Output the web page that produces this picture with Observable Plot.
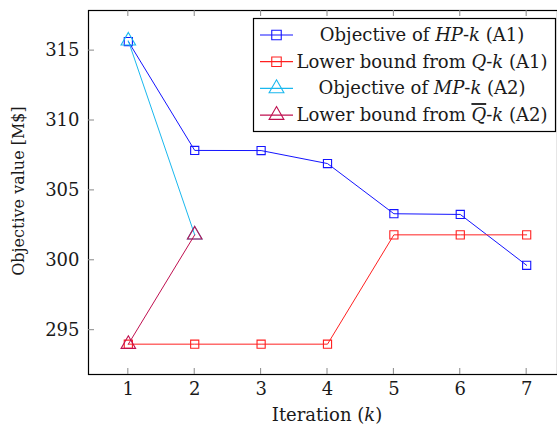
<!DOCTYPE html>
<html>
<head>
<meta charset="utf-8">
<script src="https://cdn.jsdelivr.net/npm/d3@7"></script>
<script src="https://cdn.jsdelivr.net/npm/@observablehq/plot@0.6"></script>
<style>
  html, body { margin: 0; padding: 0; background: white; overflow: hidden; }
  #chart svg text { font-family: "DejaVu Serif", serif; }
</style>
</head>
<body>
<div id="chart"></div>
<script>
const iterations = [1, 2, 3, 4, 5, 6, 7];
const hpObjective = [315.65, 307.86, 307.85, 306.92, 303.33, 303.28, 299.64];
const qLowerBound = [294.0, 294.0, 294.0, 294.0, 301.82, 301.82, 301.82];
const mpIterations = [1, 2];
const mpObjective = [315.7, 301.82];
const qbarLowerBound = [294.0, 301.82];
const xTicks = [1, 2, 3, 4, 5, 6, 7];
const yTicks = [295, 300, 305, 310, 315];

const series = [
  {key: "hp", xs: iterations, ys: hpObjective, color: "#1414ff", symbol: "square"},
  {key: "q", xs: iterations, ys: qLowerBound, color: "#ff2020", symbol: "square"},
  {key: "mp", xs: mpIterations, ys: mpObjective, color: "#1ab8ee", symbol: "triangle"},
  {key: "qbar", xs: mpIterations, ys: qbarLowerBound, color: "#bf1050", symbol: "triangle"}
];
const data = series.flatMap(s => s.xs.map((x, i) => ({key: s.key, x, y: s.ys[i]})));

const marks = [];
for (const s of series) {
  const d = data.filter(r => r.key === s.key);
  marks.push(Plot.line(d, {x: "x", y: "y", stroke: s.color, strokeWidth: 1}));
  marks.push(Plot.dot(d, {x: "x", y: "y", stroke: s.color, fill: "none", symbol: s.symbol, r: s.symbol === "square" ? 4.6 : 5.4, strokeWidth: 1.1}));
}

const FS = 18;
const plot = Plot.plot({
  width: 557,
  height: 430,
  marginLeft: 88,
  marginTop: 10,
  marginBottom: 56,
  marginRight: 0,
  style: {fontSize: FS + "px", fontFamily: "DejaVu Serif, serif", overflow: "hidden"},
  x: {domain: [0.4, 7.6], range: [88, 566]},
  y: {domain: [291.83, 317.87]},
  marks: [
    Plot.axisX({ticks: xTicks, tickSize: 0, tickPadding: 8, label: null, tickFormat: d => String(d), fill: "#1a1a1a"}),
    Plot.axisY({ticks: yTicks, tickSize: 0, tickPadding: 9, label: null, tickFormat: d => String(d), fill: "#1a1a1a"}),
    ...marks,
    Plot.frame({stroke: "black", strokeWidth: 1.2})
  ]
});
document.getElementById("chart").appendChild(plot);

const svg = d3.select(plot);
const xs = plot.scale("x"), ys = plot.scale("y");
const [y0, y1] = [ys.apply(ys.domain[0]), ys.apply(ys.domain[1])];
const [x0, x1] = [xs.apply(xs.domain[0]), xs.apply(xs.domain[1])];
const tg = svg.append("g").attr("stroke", "#888").attr("stroke-width", 1);
for (const t of xTicks) {
  const px = xs.apply(t);
  tg.append("line").attr("x1", px).attr("x2", px).attr("y1", y0).attr("y2", y0 - 6);
  tg.append("line").attr("x1", px).attr("x2", px).attr("y1", y1).attr("y2", y1 + 6);
}
for (const t of yTicks) {
  const py = ys.apply(t);
  tg.append("line").attr("x1", x0).attr("x2", x0 + 6).attr("y1", py).attr("y2", py);
  tg.append("line").attr("x1", x1).attr("x2", x1 - 6).attr("y1", py).attr("y2", py);
}

// axis labels
const xl = svg.append("text").attr("x", 327).attr("y", 421)
  .attr("text-anchor", "middle").attr("font-size", FS).attr("fill", "#1a1a1a");
xl.append("tspan").text("Iteration (");
xl.append("tspan").attr("font-style", "italic").text("k");
xl.append("tspan").text(")");
svg.append("text").attr("transform", `translate(23.5,${(y0 + y1) / 2 - 1}) rotate(-90)`)
  .attr("text-anchor", "middle").attr("font-size", 16).attr("fill", "#1a1a1a")
  .text("Objective value [M$]");

// legend
const lg = svg.append("g");
lg.append("rect").attr("x", 253.5).attr("y", 18.5).attr("width", 302).attr("height", 113)
  .attr("fill", "white").attr("stroke", "black").attr("stroke-width", 1.2);
const legendItems = [
  {s: series[0], parts: [["Objective of ", ""], ["HP", "i"], ["-", ""], ["k", "i"], [" (A1)", ""]]},
  {s: series[1], parts: [["Lower bound from ", ""], ["Q", "i"], ["-", ""], ["k", "i"], [" (A1)", ""]]},
  {s: series[2], parts: [["Objective of ", ""], ["MP", "i"], ["-", ""], ["k", "i"], [" (A2)", ""]]},
  {s: series[3], parts: [["Lower bound from ", ""], ["Q", "io"], ["-", ""], ["k", "i"], [" (A2)", ""]]}
];
legendItems.forEach((it, i) => {
  const cy = 35 + i * 26.7;
  lg.append("line").attr("x1", 260).attr("x2", 293).attr("y1", cy).attr("y2", cy)
    .attr("stroke", it.s.color).attr("stroke-width", 1.2);
  const sym = it.s.symbol === "square" ? d3.symbolSquare : d3.symbolTriangle;
  const size = it.s.symbol === "square" ? 90 : 95;
  lg.append("path").attr("d", d3.symbol(sym, size)()).attr("transform", `translate(276.5,${cy})`)
    .attr("fill", "none").attr("stroke", it.s.color).attr("stroke-width", 1.1);
  const t = lg.append("text").attr("x", 422).attr("y", cy + 6).attr("text-anchor", "middle")
    .attr("font-size", FS).attr("fill", "#1a1a1a");
  for (const [txt, st] of it.parts) {
    const sp = t.append("tspan").text(txt);
    if (st.includes("i")) sp.attr("font-style", "italic");
    if (st.includes("o")) sp.style("text-decoration", "overline");
  }
});
</script>
</body>
</html>
